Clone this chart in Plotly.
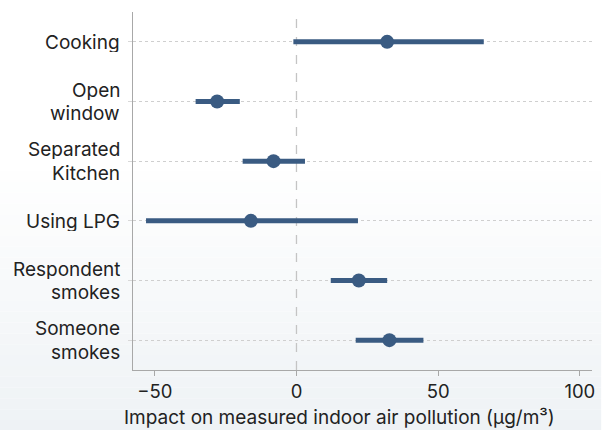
import plotly.graph_objects as go

# Estimated effects with 95% confidence intervals
factors = ["Cooking", "Open window", "Separated Kitchen", "Using LPG",
           "Respondent smokes", "Someone smokes"]
factor_lines = [["Cooking"], ["Open", "window"], ["Separated", "Kitchen"], ["Using LPG"],
                ["Respondent", "smokes"], ["Someone", "smokes"]]
estimate = [32.0, -28.0, -8.1, -16.1, 22.0, 32.8]
ci_low = [-1.1, -35.6, -19.0, -53.1, 12.1, 20.9]
ci_high = [66.1, -20.0, 3.0, 21.7, 32.0, 44.8]
x_ticks = [-50, 0, 50, 100]

navy = "#3a5b82"
text_color = "#222222"
font_family = "Inter, 'Open Sans', sans-serif"
label_size = 19

fig = go.Figure()
fig.add_trace(go.Scatter(
    x=estimate, y=factors, mode="markers",
    marker=dict(size=14, color=navy),
    error_x=dict(type="data", symmetric=False,
                 array=[h - e for h, e in zip(ci_high, estimate)],
                 arrayminus=[e - l for e, l in zip(estimate, ci_low)],
                 color=navy, thickness=5, width=0),
    showlegend=False, hoverinfo="skip",
))

# soft white-to-grey background wash toward the bottom
shapes = []
n = 40
for i in range(n):
    y0 = i / n
    t = max(0.0, 1 - (i + 0.5) / n / 0.62)
    c = [int(round(255 - (255 - b) * t)) for b in (238, 242, 245)]
    shapes.append(dict(type="rect", xref="paper", yref="paper",
                       x0=-0.3, x1=1.02, y0=-0.17 + y0 * 1.21, y1=-0.17 + (i + 1) / n * 1.21,
                       fillcolor=f"rgb({c[0]},{c[1]},{c[2]})", line=dict(width=0),
                       layer="below"))
# reference line at zero
shapes.append(dict(type="line", xref="x", yref="paper", x0=0, x1=0, y0=0, y1=1,
                   line=dict(color="#c4c4c4", width=1.3, dash="dash"), layer="below"))

# category labels, set line by line for tight leading
annotations = []
line_gap = 23.5
for cat, lines in zip(factors, factor_lines):
    k = len(lines)
    for j, txt in enumerate(lines):
        offset = ((k - 1) / 2 - j) * line_gap
        annotations.append(dict(text=txt, xref="paper", yref="y", x=0, y=cat,
                                xanchor="right", yanchor="middle", xshift=-12,
                                yshift=offset, showarrow=False, height=20,
                                borderpad=0,
                                font=dict(size=label_size, color=text_color)))
annotations.append(dict(text="Impact on measured indoor air pollution (μg/m³)",
                        xref="paper", yref="paper", x=0.45, y=-0.13,
                        xanchor="center", yanchor="middle", showarrow=False,
                        height=22, borderpad=0,
                        font=dict(size=label_size, color=text_color)))

fig.update_layout(
    width=602, height=430,
    margin=dict(l=133, r=7, t=12, b=60),
    paper_bgcolor="white", plot_bgcolor="rgba(0,0,0,0)",
    font=dict(family=font_family, size=17, color=text_color),
    shapes=shapes,
    annotations=annotations,
    xaxis=dict(range=[-57.7, 104.3], tickvals=x_ticks, showgrid=False, zeroline=False,
               showline=True, linecolor="#a8a8a8", linewidth=1.3,
               ticks="outside", ticklen=5, tickcolor="#a8a8a8",
               tickfont=dict(size=18.5)),
    yaxis=dict(type="category", categoryorder="array", categoryarray=factors,
               range=[5.5, -0.5], showgrid=True, gridcolor="#cfcfcf", griddash="dot",
               gridwidth=1, showline=True, linecolor="#a8a8a8", linewidth=1.3,
               ticks="outside", ticklen=4, tickcolor="#d8d8d8",
               showticklabels=False),
)

fig.write_html("out.html")
